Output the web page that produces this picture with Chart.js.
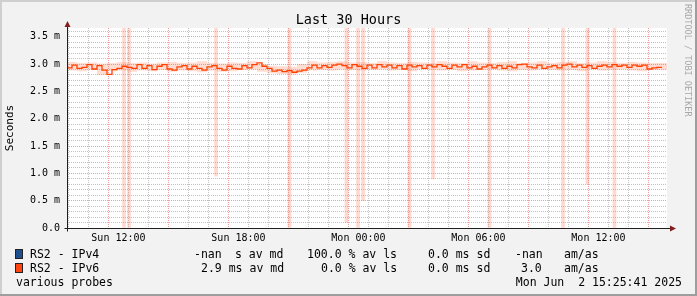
<!DOCTYPE html>
<html>
<head>
<meta charset="utf-8">
<script src="https://cdn.jsdelivr.net/npm/chart.js@4.4.0/dist/chart.umd.min.js"></script>
<style>
html, body { margin: 0; padding: 0; background: #f2f2f2; }
#wrap { position: relative; width: 697px; height: 296px; overflow: hidden; font-family: "DejaVu Sans Mono", monospace; }
#wrap canvas { position: absolute; left: 0; top: 0; }
.t { position: absolute; white-space: pre; color: #000; font-size: 11.5px; line-height: 14px; }
.box { position: absolute; width: 8px; height: 10px; box-sizing: border-box; border: 1px solid #222; }
#title { position: absolute; left: 0; top: 11px; width: 697px; text-align: center; font-size: 13.5px; line-height: 16px; }
#mark { position: absolute; left: 683px; top: 4px; writing-mode: vertical-rl; font-size: 8.5px; color: #a8a8a8; line-height: 10px; white-space: pre; }
</style>
</head>
<body>
<div id="wrap">
  <canvas id="rrd_chart" width="697" height="296"></canvas>
  <div id="title">Last 30 Hours</div>
  <div id="mark">RRDTOOL / TOBI OETIKER</div>

  <div class="box" style="left:15px;top:249px;background:#1f4f8f"></div>
  <div class="t" style="left:30px;top:247px">RS2 - IPv4</div>
  <div class="t" style="left:194px;top:247px">-nan</div>
  <div class="t" style="left:235px;top:247px">s av md</div>
  <div class="t" style="left:307px;top:247px">100.0 % av ls</div>
  <div class="t" style="left:428px;top:247px">0.0 ms sd</div>
  <div class="t" style="left:515px;top:247px">-nan</div>
  <div class="t" style="left:564px;top:247px">am/as</div>

  <div class="box" style="left:15px;top:263px;background:#ff4512"></div>
  <div class="t" style="left:30px;top:261px">RS2 - IPv6</div>
  <div class="t" style="left:201px;top:261px">2.9 ms av md</div>
  <div class="t" style="left:321px;top:261px">0.0 % av ls</div>
  <div class="t" style="left:428px;top:261px">0.0 ms sd</div>
  <div class="t" style="left:521px;top:261px">3.0</div>
  <div class="t" style="left:564px;top:261px">am/as</div>

  <div class="t" style="left:16px;top:275px">various probes</div>
  <div class="t" style="right:15px;top:275px">Mon Jun  2 15:25:41 2025</div>
</div>
<script>
// hours counted from Sun 00:00, graph covers the last 30 hours
var start = 9.428
var span = 30

// IPv6 median RTT in ms, one value every 15 minutes
var median = [
  2.97, 2.93, 2.98, 2.92, 2.94, 2.99, 2.91, 2.97, 2.89, 2.81,
  2.90, 2.92, 2.96, 2.94, 2.92, 2.99, 2.92, 2.97, 2.90, 2.96,
  2.99, 2.91, 2.89, 2.95, 2.97, 2.91, 2.96, 2.92, 2.89, 2.95,
  2.97, 2.92, 2.89, 2.96, 2.92, 2.91, 2.97, 2.93, 2.99, 3.02,
  2.96, 2.92, 2.87, 2.89, 2.86, 2.88, 2.85, 2.87, 2.89, 2.93,
  2.98, 2.93, 2.97, 2.94, 2.98, 3.00, 2.97, 2.93, 2.99, 2.96,
  2.92, 2.98, 2.93, 2.99, 2.95, 2.98, 2.93, 2.97, 2.91, 2.98,
  2.95, 2.97, 2.92, 2.98, 2.95, 2.99, 2.96, 2.92, 2.98, 2.95,
  2.99, 2.93, 2.96, 2.91, 2.95, 2.98, 2.93, 2.97, 2.92, 2.96,
  2.93, 2.99, 3.00, 2.95, 2.93, 2.98, 2.92, 2.95, 2.97, 2.93,
  2.98, 3.00, 2.95, 2.98, 2.94, 2.97, 2.92, 2.96, 2.98, 2.95,
  2.99, 2.96, 2.98, 2.94, 2.98, 2.96, 2.98, 2.91, 2.93, 2.94
]

// smoke band edges in ms, one value every 30 minutes
var smokeHi = [
  3.03, 3.04, 3.02, 3.03, 3.01, 3.02, 3.04, 3.02, 3.03, 3.01,
  3.03, 3.04, 3.02, 3.03, 3.05, 3.02, 3.01, 3.03, 3.02, 3.05,
  3.00, 2.97, 2.96, 2.95, 3.00, 3.05, 3.03, 3.04, 3.05, 3.03,
  3.04, 3.02, 3.05, 3.03, 3.02, 3.04, 3.03, 3.02, 3.05, 3.03,
  3.02, 3.05, 3.03, 3.02, 3.04, 3.05, 3.02, 3.03, 3.05, 3.02,
  3.04, 3.05, 3.02, 3.03, 3.05, 3.04, 3.02, 3.04, 3.03, 3.02, 3.02
]
var smokeLo = [
  2.89, 2.88, 2.87, 2.89, 2.80, 2.87, 2.88, 2.86, 2.88, 2.87,
  2.89, 2.86, 2.88, 2.87, 2.85, 2.88, 2.86, 2.87, 2.89, 2.90,
  2.86, 2.83, 2.82, 2.81, 2.84, 2.88, 2.89, 2.88, 2.90, 2.89,
  2.88, 2.89, 2.90, 2.88, 2.89, 2.87, 2.90, 2.89, 2.88, 2.89,
  2.87, 2.88, 2.89, 2.90, 2.88, 2.87, 2.89, 2.88, 2.90, 2.89,
  2.88, 2.89, 2.87, 2.90, 2.88, 2.89, 2.90, 2.88, 2.87, 2.89, 2.89
]

// tall smoke spikes: time (h), bottom and top in ms
var spikeTime = [12.28, 12.53, 16.88, 20.55, 23.40, 23.98, 24.23, 26.55, 27.73, 30.55, 34.23, 35.45, 36.80]
var spikeLow  = [0, 0, 0.95, 0, 0.1, 0, 0.5, 0, 0.9, 0, 0, 0.8, 0]
var spikeHigh = [3.7, 3.7, 3.7, 3.7, 3.7, 3.7, 3.7, 3.7, 3.7, 3.7, 3.7, 3.7, 3.7]

var xTicks = [12, 18, 24, 30, 36]
var xLabels = ['Sun 12:00', 'Sun 18:00', 'Mon 00:00', 'Mon 06:00', 'Mon 12:00']
var yTicks = [0, 0.5, 1.0, 1.5, 2.0, 2.5, 3.0, 3.5]
var yLabels = ['0.0', '0.5 m', '1.0 m', '1.5 m', '2.0 m', '2.5 m', '3.0 m', '3.5 m']

var tickFont = {family: 'DejaVu Sans Mono', size: 10}

var frame = {
    id: 'frame',
    beforeDraw(chart) {
        const {ctx, chartArea: a, width, height} = chart
        ctx.save()
        ctx.fillStyle = '#f2f2f2'
        ctx.fillRect(0, 0, width, height)
        ctx.fillStyle = '#cfcfcf'
        ctx.fillRect(0, 0, width, 2)
        ctx.fillRect(0, 0, 2, height)
        ctx.fillStyle = '#9e9e9e'
        ctx.fillRect(width - 2, 0, 2, height)
        ctx.fillRect(0, height - 2, width, 2)
        ctx.fillStyle = '#fff'
        ctx.fillRect(a.left, a.top, a.right - a.left, a.bottom - a.top)
        ctx.restore()
    },
    afterDraw(chart) {
        const {ctx, chartArea: a} = chart
        const l = Math.round(a.left) + 0.5, b = Math.round(a.bottom) + 0.5
        ctx.save()
        ctx.strokeStyle = '#1f1f1f'
        ctx.lineWidth = 1
        ctx.beginPath()
        ctx.moveTo(l, b + 3); ctx.lineTo(l, a.top - 3)
        ctx.moveTo(l - 3, b); ctx.lineTo(a.right + 4, b)
        ctx.stroke()
        ctx.fillStyle = '#801f1f'
        ctx.beginPath()
        ctx.moveTo(l - 3, a.top - 1); ctx.lineTo(l + 3, a.top - 1); ctx.lineTo(l, a.top - 7)
        ctx.closePath(); ctx.fill()
        ctx.beginPath()
        ctx.moveTo(a.right + 3, b - 3); ctx.lineTo(a.right + 3, b + 3); ctx.lineTo(a.right + 9, b)
        ctx.closePath(); ctx.fill()
        ctx.restore()
    }
}

new Chart(document.getElementById('rrd_chart'), {
    type: 'bar',
    data: {
        datasets: [{
            type: 'line',
            data: smokeLo.map((v, i) => ({x: start + i * 0.5, y: v})),
            stepped: 'after',
            borderWidth: 0,
            pointRadius: 0,
            fill: false,
            order: 3
        }, {
            type: 'line',
            data: smokeHi.map((v, i) => ({x: start + i * 0.5, y: v})),
            stepped: 'after',
            borderWidth: 0,
            pointRadius: 0,
            fill: '-1',
            backgroundColor: 'rgba(255,120,80,0.25)',
            order: 3
        }, {
            type: 'bar',
            data: spikeTime.map((t, i) => ({x: t, y: [spikeLow[i], spikeHigh[i]]})),
            backgroundColor: 'rgba(255,130,100,0.3)',
            barThickness: 3,
            order: 2
        }, {
            type: 'line',
            label: 'RS2 - IPv6',
            data: median.map((v, i) => ({x: start + i * 0.25, y: v})),
            stepped: 'after',
            borderColor: '#ff4000',
            borderWidth: 1.3,
            pointRadius: 0,
            fill: false,
            order: 1
        }]
    },
    options: {
        responsive: false,
        animation: false,
        layout: {padding: {left: 0, right: 30, top: 28, bottom: 48}},
        plugins: {legend: {display: false}, tooltip: {enabled: false}},
        scales: {
            x: {
                type: 'linear',
                offset: false,
                min: start,
                max: start + span,
                afterFit: s => { s.height = 20 },
                afterBuildTicks: axis => {
                    const t = []
                    for (let h = Math.ceil(start); h <= start + span; h++) t.push({value: h})
                    axis.ticks = t
                },
                ticks: {
                    autoSkip: false, maxRotation: 0, padding: 4, color: '#000', font: tickFont,
                    callback: v => { const i = xTicks.indexOf(v); return i >= 0 ? xLabels[i] : '' }
                },
                grid: {
                    drawTicks: false,
                    color: c => c.tick && c.tick.value % 3 === 0 ? 'rgba(222,79,79,0.55)' : 'rgba(143,143,143,0.55)'
                },
                border: {display: false, dash: [1, 1]}
            },
            y: {
                min: 0,
                max: 3.66,
                afterFit: s => { s.width = 67 },
                afterBuildTicks: axis => {
                    const t = []
                    for (let k = 0; k <= 36; k++) t.push({value: k / 10})
                    axis.ticks = t
                },
                ticks: {
                    autoSkip: false, padding: 7, color: '#000', font: tickFont,
                    callback: v => { const i = yTicks.findIndex(t => Math.abs(t - v) < 1e-6); return i >= 0 ? yLabels[i] : '' }
                },
                title: {display: true, text: 'Seconds', color: '#000', font: {family: 'DejaVu Sans Mono', size: 11}},
                grid: {
                    drawTicks: false,
                    color: c => c.tick && Math.round(c.tick.value * 10) % 5 === 0 ? 'rgba(222,79,79,0.55)' : 'rgba(143,143,143,0.55)'
                },
                border: {display: false, dash: [1, 1]}
            }
        }
    },
    plugins: [frame]
});
</script>
</body>
</html>
